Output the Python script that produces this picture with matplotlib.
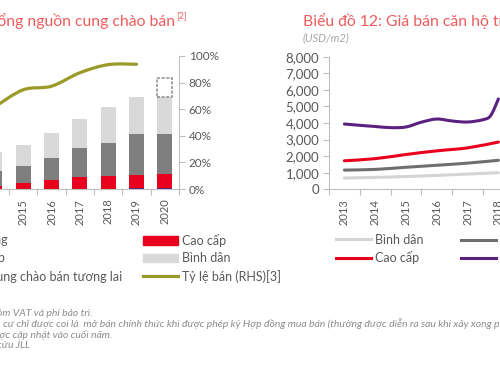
import numpy as np
import matplotlib
matplotlib.use("Agg")
import matplotlib.pyplot as plt
from matplotlib.path import Path
from matplotlib.patches import PathPatch, Patch
from matplotlib.lines import Line2D

plt.rcParams['font.family'] = ['Lato', 'DejaVu Sans']

# ---- left chart: supply (stacked bars) + sold ratio (RHS) ----
supply_years = ['2014', '2015', '2016', '2017', '2018', '2019', '2020']
supply_hang_sang = [0, 0, 0, 0, 0, 0.4, 0.5]
supply_cao_cap = [2.5, 4.7, 6.8, 8.8, 9.8, 10.5, 10.5]
supply_trung_cap = [11.0, 12.6, 16.7, 21.8, 25.0, 30.3, 30.3]
supply_binh_dan = [14.1, 15.8, 18.8, 22.0, 27.1, 27.9, 27.9]
supply_future = [0, 0, 0, 0, 0, 0, 14.5]
sold_ratio = [61.8, 74.6, 77.3, 87.4, 93.5, 93.8]  # 2014..2019, %

# ---- right chart: average selling price (USD/m2) ----
price_years = ['2013', '2014', '2015', '2016', '2017', '2018', '2019', '2020']
price_binh_dan = [680, 720, 770, 840, 920, 1000]
price_trung_cap = [1160, 1200, 1330, 1450, 1580, 1750]
price_cao_cap = [1720, 1850, 2100, 2320, 2500, 2850]
hang_sang_time = [2013.0, 2013.5, 2014.0, 2014.5, 2015.0, 2015.5, 2016.0,
                  2016.5, 2017.0, 2017.5, 2017.75, 2018.0]
price_hang_sang = [3940, 3860, 3790, 3720, 3760, 4050, 4240, 4120, 4060,
                   4200, 4450, 5450]

RED = "#e8001c"
DARK = "#7f7f7f"
LIGHT = "#d9d9d9"
PURPLE = "#5b2181"
OLIVE = "#9a9a28"
AXC = "#bfbfbf"
TXT = "#595959"
TITLE = "#f05a5a"


def smooth_path(xs, ys):
    # Excel-like smoothed line: Catmull-Rom segments as cubic beziers
    p = np.column_stack([xs, ys]).astype(float)
    verts, codes = [p[0]], [Path.MOVETO]
    for i in range(len(p) - 1):
        p0 = p[i - 1] if i > 0 else p[i]
        p3 = p[i + 2] if i + 2 < len(p) else p[i + 1]
        verts += [p[i] + (p[i + 1] - p0) / 6, p[i + 1] - (p3 - p[i]) / 6, p[i + 1]]
        codes += [Path.CURVE4] * 3
    return Path(verts, codes)


def add_smooth(ax, xs, ys, color, lw):
    ax.add_patch(PathPatch(smooth_path(xs, ys), fill=False, edgecolor=color,
                           lw=lw, capstyle="round", joinstyle="round"))


def cat_axis(ax, labels):
    n = len(labels)
    ax.set_xlim(-0.5, n - 0.5)
    ax.set_xticks(np.arange(n + 1) - 0.5)
    ax.set_xticklabels([])
    ax.set_xticks(np.arange(n), minor=True)
    ax.set_xticklabels(labels, minor=True, rotation=90, fontsize=8, color=TXT)
    ax.tick_params(axis="x", which="major", direction="out", length=4,
                   color=AXC, width=0.8)
    ax.tick_params(axis="x", which="minor", length=0, pad=7)


fig = plt.figure(figsize=(5, 3.75), dpi=100)

# ---------------- left chart ----------------
axL = fig.add_axes([-0.0386, 0.496, 0.3966, 0.3547])
x = np.arange(len(supply_years))
bottom = np.zeros(len(x))
for vals, col in [(supply_hang_sang, PURPLE), (supply_cao_cap, RED),
                  (supply_trung_cap, DARK), (supply_binh_dan, LIGHT)]:
    axL.bar(x, vals, 0.52, bottom=bottom, color=col, lw=0)
    bottom += np.array(vals)
axL.bar(x, supply_future, 0.52, bottom=bottom,
        facecolor=["white" if v > 0 else "none" for v in supply_future],
        edgecolor=["#8c8c8c" if v > 0 else "none" for v in supply_future],
        lw=1.1, linestyle=(0, (2, 1)))
add_smooth(axL, np.arange(len(sold_ratio)), sold_ratio, OLIVE, 2.3)
axL.set_ylim(0, 100)
axL.yaxis.tick_right()
axL.set_yticks(np.arange(0, 101, 20))
axL.set_yticklabels([f"{v}%" for v in range(0, 101, 20)], fontsize=8.5, color=TXT)
axL.tick_params(axis="y", direction="out", length=4, color=AXC, width=0.8, pad=3)
cat_axis(axL, supply_years)
for s in ("left", "top"):
    axL.spines[s].set_visible(False)
for s in ("right", "bottom"):
    axL.spines[s].set_color(AXC)
    axL.spines[s].set_linewidth(0.8)

leg_kw = dict(frameon=False, fontsize=9, borderpad=0, borderaxespad=0,
              handlelength=2.8, handletextpad=0.35, labelspacing=0.45,
              labelcolor=TXT)
h1 = [Patch(color=PURPLE), Patch(color=DARK),
      Patch(facecolor="white", edgecolor="#8c8c8c", linestyle=(0, (2, 1)))]
fig.legend(h1, ["Hạng sang", "Trung cấp", "Nguồn cung chào bán tương lai"],
           loc="upper left", bbox_to_anchor=(-0.178, 0.377), **leg_kw)
h2 = [Patch(color=RED), Patch(color=LIGHT), Line2D([], [], color=OLIVE, lw=2.3)]
fig.legend(h2, ["Cao cấp", "Bình dân", "Tỷ lệ bán (RHS)[3]"],
           loc="upper left", bbox_to_anchor=(0.286, 0.377), **leg_kw)

fig.text(0.35, 0.945, "Biểu đồ 11: Tổng nguồn cung chào bán", ha="right",
         va="center", fontsize=11.3, color=TITLE)
fig.text(0.353, 0.958, "[2]", ha="left", va="center", fontsize=6.5, color=TITLE)

# ---------------- right chart ----------------
axR = fig.add_axes([0.658, 0.4952, 0.4928, 0.3536])
xp = np.arange(len(price_binh_dan))
add_smooth(axR, xp, price_binh_dan, "#d4d4d4", 2.2)
add_smooth(axR, xp, price_trung_cap, "#6f6f6f", 2.2)
add_smooth(axR, xp, price_cao_cap, RED, 2.2)
add_smooth(axR, np.array(hang_sang_time) - 2013, price_hang_sang, PURPLE, 2.2)
axR.set_ylim(0, 8000)
axR.set_yticks(np.arange(0, 8001, 1000))
axR.set_yticklabels([f"{v:,}" for v in range(0, 8001, 1000)], fontsize=9.5, color=TXT)
axR.tick_params(axis="y", direction="out", length=4, color=AXC, width=0.8, pad=3)
cat_axis(axR, price_years)
for s in ("right", "top"):
    axR.spines[s].set_visible(False)
for s in ("left", "bottom"):
    axR.spines[s].set_color(AXC)
    axR.spines[s].set_linewidth(0.8)

fig.text(0.606, 0.945, "Biểu đồ 12: Giá bán căn hộ trung bình", ha="left",
         va="center", fontsize=11.3, color=TITLE)
fig.text(0.606, 0.898, "(USD/m2)", ha="left", va="center", fontsize=8,
         style="italic", color="#a6a6a6")

hr1 = [Line2D([], [], color="#d4d4d4", lw=2.2), Line2D([], [], color=RED, lw=2.2)]
fig.legend(hr1, ["Bình dân", "Cao cấp"], loc="upper left",
           bbox_to_anchor=(0.672, 0.377), **leg_kw)
hr2 = [Line2D([], [], color="#6f6f6f", lw=2.2), Line2D([], [], color=PURPLE, lw=2.2)]
fig.legend(hr2, ["Trung cấp", "Hạng sang"], loc="upper left",
           bbox_to_anchor=(0.921, 0.377), **leg_kw)

# ---------------- footnotes ----------------
fn = dict(fontsize=7.5, style="italic", color="#8c8c8c", va="center")
fig.text(0.186, 0.166, "[1] Giá chào bán chưa bao gồm VAT và phí bảo trì.", ha="right", **fn)
fig.text(0.006, 0.137, "cư chỉ được coi là  mở bán chính thức khi được phép ký Hợp đồng "
         "mua bán (thường được diễn ra sau khi xây xong phần móng)", ha="left", **fn)
fig.text(0.224, 0.108, "[3] Tỷ lệ bán được cập nhật vào cuối năm.", ha="right", **fn)
fig.text(0.06, 0.079, "Nguồn: Bộ phận Nghiên cứu JLL", ha="right", **fn)

fig.savefig("out.png", dpi=100)
